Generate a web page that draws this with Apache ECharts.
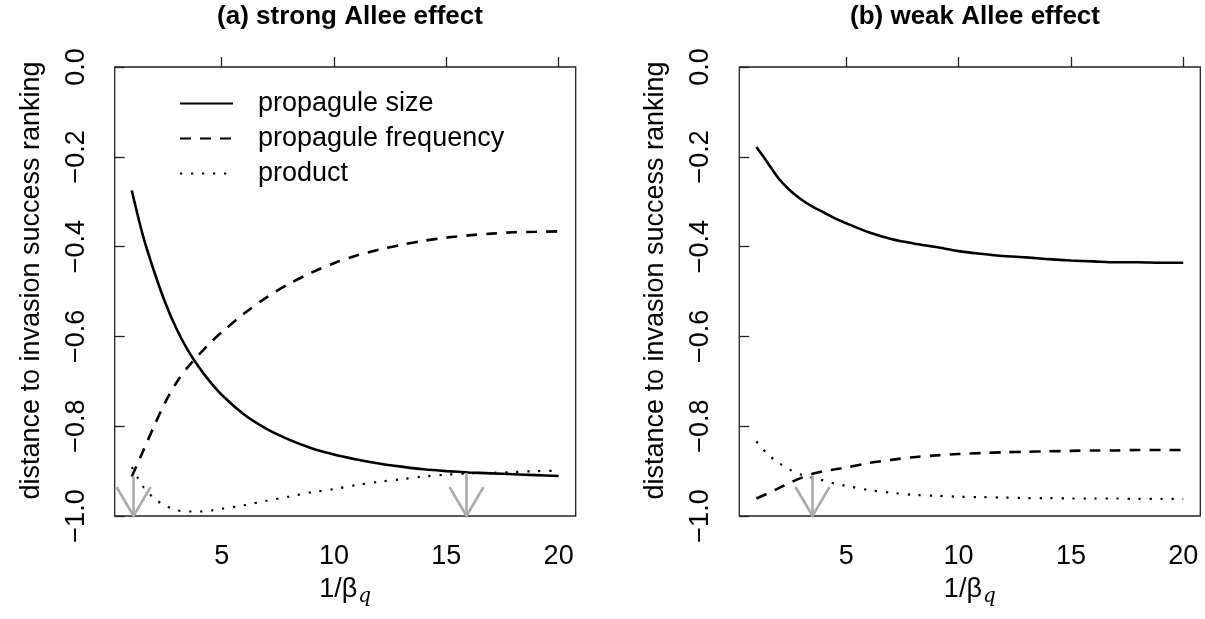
<!DOCTYPE html>
<html><head><meta charset="utf-8">
<script src="https://cdn.jsdelivr.net/npm/echarts@6/dist/echarts.min.js"></script>
<style>html,body{margin:0;padding:0;background:#fff}#c{width:1205px;height:619px}</style>
</head><body><div id="c"></div>
<script>
// ---- data ----
const xs = [1, 1.5, 2, 2.5, 3, 3.5, 4, 4.5, 5, 6, 7, 8, 9, 10, 11, 12, 13, 14, 15, 16, 17, 18, 19, 20];
// (a) strong Allee effect
const strongSize = [-0.275, -0.376, -0.456, -0.526, -0.584, -0.631, -0.669, -0.702, -0.730, -0.774, -0.806, -0.830, -0.849, -0.863, -0.874, -0.883, -0.890, -0.896, -0.900, -0.903, -0.905, -0.907, -0.909, -0.911];
const strongFreq = [-0.912, -0.856, -0.799, -0.746, -0.702, -0.668, -0.640, -0.614, -0.591, -0.549, -0.513, -0.483, -0.458, -0.437, -0.420, -0.407, -0.396, -0.387, -0.380, -0.375, -0.371, -0.368, -0.367, -0.366];
const strongProd = [-0.891, -0.934, -0.961, -0.977, -0.987, -0.990, -0.990, -0.988, -0.984, -0.976, -0.966, -0.957, -0.947, -0.940, -0.931, -0.924, -0.918, -0.912, -0.908, -0.905, -0.904, -0.902, -0.900, -0.899];
// (b) weak Allee effect
const weakSize = [-0.178, -0.213, -0.249, -0.275, -0.295, -0.311, -0.324, -0.337, -0.348, -0.368, -0.383, -0.393, -0.401, -0.410, -0.416, -0.421, -0.424, -0.428, -0.431, -0.433, -0.435, -0.435, -0.436, -0.436];
const weakFreq = [-0.961, -0.950, -0.938, -0.926, -0.915, -0.906, -0.900, -0.896, -0.892, -0.882, -0.875, -0.869, -0.865, -0.862, -0.860, -0.858, -0.857, -0.856, -0.855, -0.854, -0.854, -0.853, -0.853, -0.853];
const weakProd = [-0.834, -0.862, -0.882, -0.897, -0.908, -0.915, -0.921, -0.928, -0.933, -0.942, -0.948, -0.953, -0.955, -0.957, -0.958, -0.959, -0.960, -0.960, -0.961, -0.961, -0.961, -0.962, -0.962, -0.962];
// arrows: [x, from y, to y]
const strongArrows = [[1.08, -0.912, -1.0], [15.9, -0.904, -1.0]];
const weakArrows = [[3.5, -0.910, -1.0]];
const xTicks = [5, 10, 15, 20];
const yTickLabels = ['\u22121.0', '\u22120.8', '\u22120.6', '\u22120.4', '\u22120.2', '0.0'];
const seriesNames = ['propagule size', 'propagule frequency', 'product'];
const panelTitles = ['(a) strong Allee effect', '(b) weak Allee effect'];
const yTitle = 'distance to invasion success ranking';

// ---- chart ----
const FF = 'Liberation Sans, Arial, Helvetica, sans-serif';
const zip = (a, b) => a.map((v, i) => [v, b[i]]);
const styles = [
  {type: 'solid', width: 2.6, cap: 'butt'},
  {type: [11, 9], width: 2.6, cap: 'butt'},
  {type: [2.2, 8.8], width: 2.2, cap: 'butt'}
];
function lineSeries(name, data, idx, style) {
  return {
    name: name, type: 'line', xAxisIndex: idx, yAxisIndex: idx,
    data: data, symbol: 'none', showSymbol: false,
    smooth: 0.3,
    color: '#000',
    itemStyle: {color: '#000', opacity: 0},
    lineStyle: Object.assign({color: '#000'}, style),
    z: 3, animation: false
  };
}
function arrowRender(params, api) {
  const p0 = api.coord([api.value(0), api.value(1)]);
  const p1 = api.coord([api.value(0), api.value(2)]);
  const hw = 17, hl = 29;
  const st = {stroke: '#ABABAB', lineWidth: 2.6, fill: null};
  return {type: 'group', children: [
    {type: 'line', shape: {x1: p0[0], y1: p0[1], x2: p1[0], y2: p1[1]}, style: st},
    {type: 'polyline', shape: {points: [[p1[0] - hw, p1[1] - hl], [p1[0], p1[1]], [p1[0] + hw, p1[1] - hl]]}, style: st}
  ]};
}
function arrowSeries(data, idx) {
  return {type: 'custom', xAxisIndex: idx, yAxisIndex: idx, data: data,
    encode: {x: 0, y: [1, 2]}, renderItem: arrowRender, z: 5, animation: false, silent: true};
}
function xAxis(idx) {
  return {
    type: 'value', gridIndex: idx, min: 0.24, max: 20.76,
    axisLine: {show: false}, splitLine: {show: false},
    axisTick: {show: true, inside: true, length: 10, customValues: xTicks, lineStyle: {color: '#222', width: 1.3}},
    axisLabel: {customValues: xTicks, fontSize: 27, color: '#000', fontFamily: FF, margin: 27},
    name: '1/\u03b2{q|q}', nameLocation: 'middle', nameGap: 57,
    nameTextStyle: {fontSize: 27, color: '#000', fontFamily: FF,
      rich: {q: {fontSize: 20, fontStyle: 'italic', fontFamily: 'DejaVu Serif, serif', color: '#000', padding: [14, 0, 0, 1]}}}
  };
}
function yAxis(idx) {
  return {
    type: 'value', gridIndex: idx, min: -1, max: 0, interval: 0.2,
    axisLine: {show: false}, splitLine: {show: false},
    axisTick: {show: true, inside: true, length: 10, lineStyle: {color: '#222', width: 1.3}},
    axisLabel: {rotate: 90, fontSize: 27, color: '#000', fontFamily: FF, margin: 25,
      formatter: v => yTickLabels[Math.round((v + 1) / 0.2)]},
    name: yTitle, nameLocation: 'middle', nameGap: 70, nameRotate: 90,
    nameTextStyle: {fontSize: 27, color: '#000', fontFamily: FF, padding: [0, 0, 0, 22]}
  };
}
const gridBase = {top: 67, height: 449, width: 461, show: true, borderColor: '#222', borderWidth: 1.3, backgroundColor: 'transparent'};
const chart = echarts.init(document.getElementById('c'), null, {renderer: 'canvas'});
chart.setOption({
  backgroundColor: '#fff',
  animation: false,
  title: [
    {text: panelTitles[0], left: 345, top: -1, textAlign: 'center', textStyle: {fontSize: 26, fontWeight: 'bold', color: '#000', fontFamily: FF}},
    {text: panelTitles[1], left: 970, top: -1, textAlign: 'center', textStyle: {fontSize: 26, fontWeight: 'bold', color: '#000', fontFamily: FF}}
  ],
  legend: {
    data: seriesNames, orient: 'vertical', left: 174, top: 85,
    itemWidth: 53, itemHeight: 14, itemGap: 8,
    itemStyle: {opacity: 0, borderWidth: 0},
    textStyle: {fontSize: 27, color: '#000', fontFamily: FF, padding: [0, 0, 0, 20]},
    selectedMode: false
  },
  grid: [Object.assign({left: 114.7}, gridBase), Object.assign({left: 739.3}, gridBase)],
  xAxis: [xAxis(0), xAxis(1)],
  yAxis: [yAxis(0), yAxis(1)],
  series: [
    lineSeries(seriesNames[0], zip(xs, strongSize), 0, styles[0]),
    lineSeries(seriesNames[1], zip(xs, strongFreq), 0, styles[1]),
    lineSeries(seriesNames[2], zip(xs, strongProd), 0, styles[2]),
    lineSeries(seriesNames[0], zip(xs, weakSize), 1, styles[0]),
    lineSeries(seriesNames[1], zip(xs, weakFreq), 1, styles[1]),
    lineSeries(seriesNames[2], zip(xs, weakProd), 1, styles[2]),
    arrowSeries(strongArrows, 0),
    arrowSeries(weakArrows, 1)
  ]
});
</script></body></html>
